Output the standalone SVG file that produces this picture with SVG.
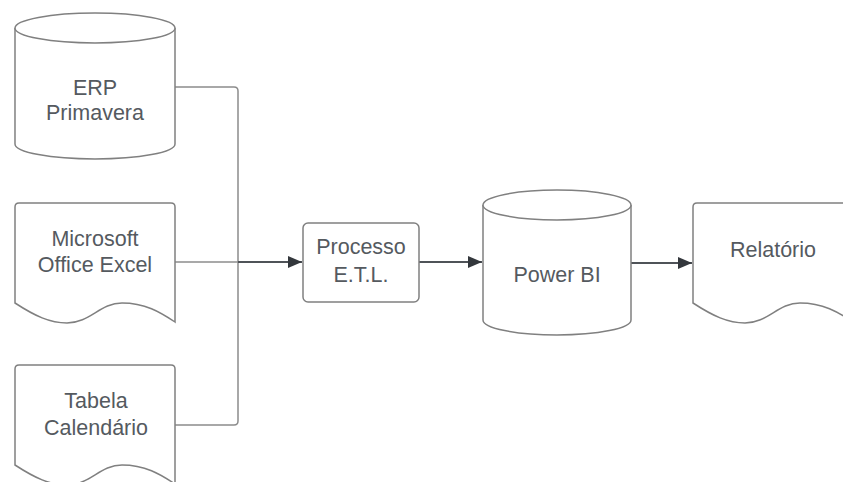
<svg xmlns="http://www.w3.org/2000/svg" width="843" height="482" viewBox="0 0 843 482">
<defs>
<style>
.shape{fill:#ffffff;stroke:#808080;stroke-width:1.5}
.lbl{font-family:"Liberation Sans",Arial,sans-serif;font-size:21.5px;fill:#555a5f;text-anchor:middle}
.feed{fill:none;stroke:#8c8c8c;stroke-width:1.5}
.flow{fill:none;stroke:#4f5358;stroke-width:1.8}
</style>
<marker id="arr" viewBox="0 0 14 12" refX="14" refY="6" markerWidth="14" markerHeight="12" markerUnits="userSpaceOnUse" orient="auto">
<path d="M0,0 L14,6 L0,12 Z" fill="#33373c"/>
</marker>
</defs>
<rect width="843" height="482" fill="#ffffff"/>

<g id="connectors">
<path class="feed" d="M175,87 H234 Q238,87 238,91 V262"/>
<path class="feed" d="M175,425 H234 Q238,425 238,421 V262"/>
<path class="feed" d="M175,262 H238"/>
<path class="flow" d="M238,262 H302" marker-end="url(#arr)"/>
<path class="flow" d="M419,262 H482" marker-end="url(#arr)"/>
<path class="flow" d="M631,263 H692" marker-end="url(#arr)"/>
</g>

<g id="erp">
<path class="shape" d="M15,28 A80,15 0 0 1 175,28 V144 A80,15 0 0 1 15,144 Z"/>
<path class="shape" fill="none" d="M15,28 A80,15 0 0 0 175,28"/>
<text class="lbl" x="95" y="95">ERP</text>
<text class="lbl" x="95" y="120">Primavera</text>
</g>

<g id="excel">
<path class="shape" d="M15,303 V207 Q15,203 19,203 H171 Q175,203 175,207 V322 C160,312 145,303 122,303 C100,303 90,323 67,323 C50,323 35,316 15,303 Z"/>
<text class="lbl" x="95" y="246">Microsoft</text>
<text class="lbl" x="95" y="272">Office Excel</text>
</g>

<g id="calendario">
<path class="shape" d="M15,465 V369 Q15,365 19,365 H171 Q175,365 175,369 V484 C160,474 145,465 122,465 C100,465 90,485 67,485 C50,485 35,478 15,465 Z"/>
<text class="lbl" x="96" y="408">Tabela</text>
<text class="lbl" x="96" y="435">Calendário</text>
</g>

<g id="etl">
<rect class="shape" x="303" y="223" width="116" height="79" rx="5"/>
<text class="lbl" x="361" y="254">Processo</text>
<text class="lbl" x="361" y="282">E.T.L.</text>
</g>

<g id="powerbi">
<path class="shape" d="M483,205 A74,15 0 0 1 631,205 V320 A74,15 0 0 1 483,320 Z"/>
<path class="shape" fill="none" d="M483,205 A74,15 0 0 0 631,205"/>
<text class="lbl" x="557" y="282">Power BI</text>
</g>

<g id="relatorio">
<path class="shape" d="M693,303 V207 Q693,203 697,203 H849 Q853,203 853,207 V322 C838,312 823,303 800,303 C778,303 768,323 745,323 C728,323 713,316 693,303 Z"/>
<text class="lbl" x="773" y="257">Relatório</text>
</g>
</svg>
